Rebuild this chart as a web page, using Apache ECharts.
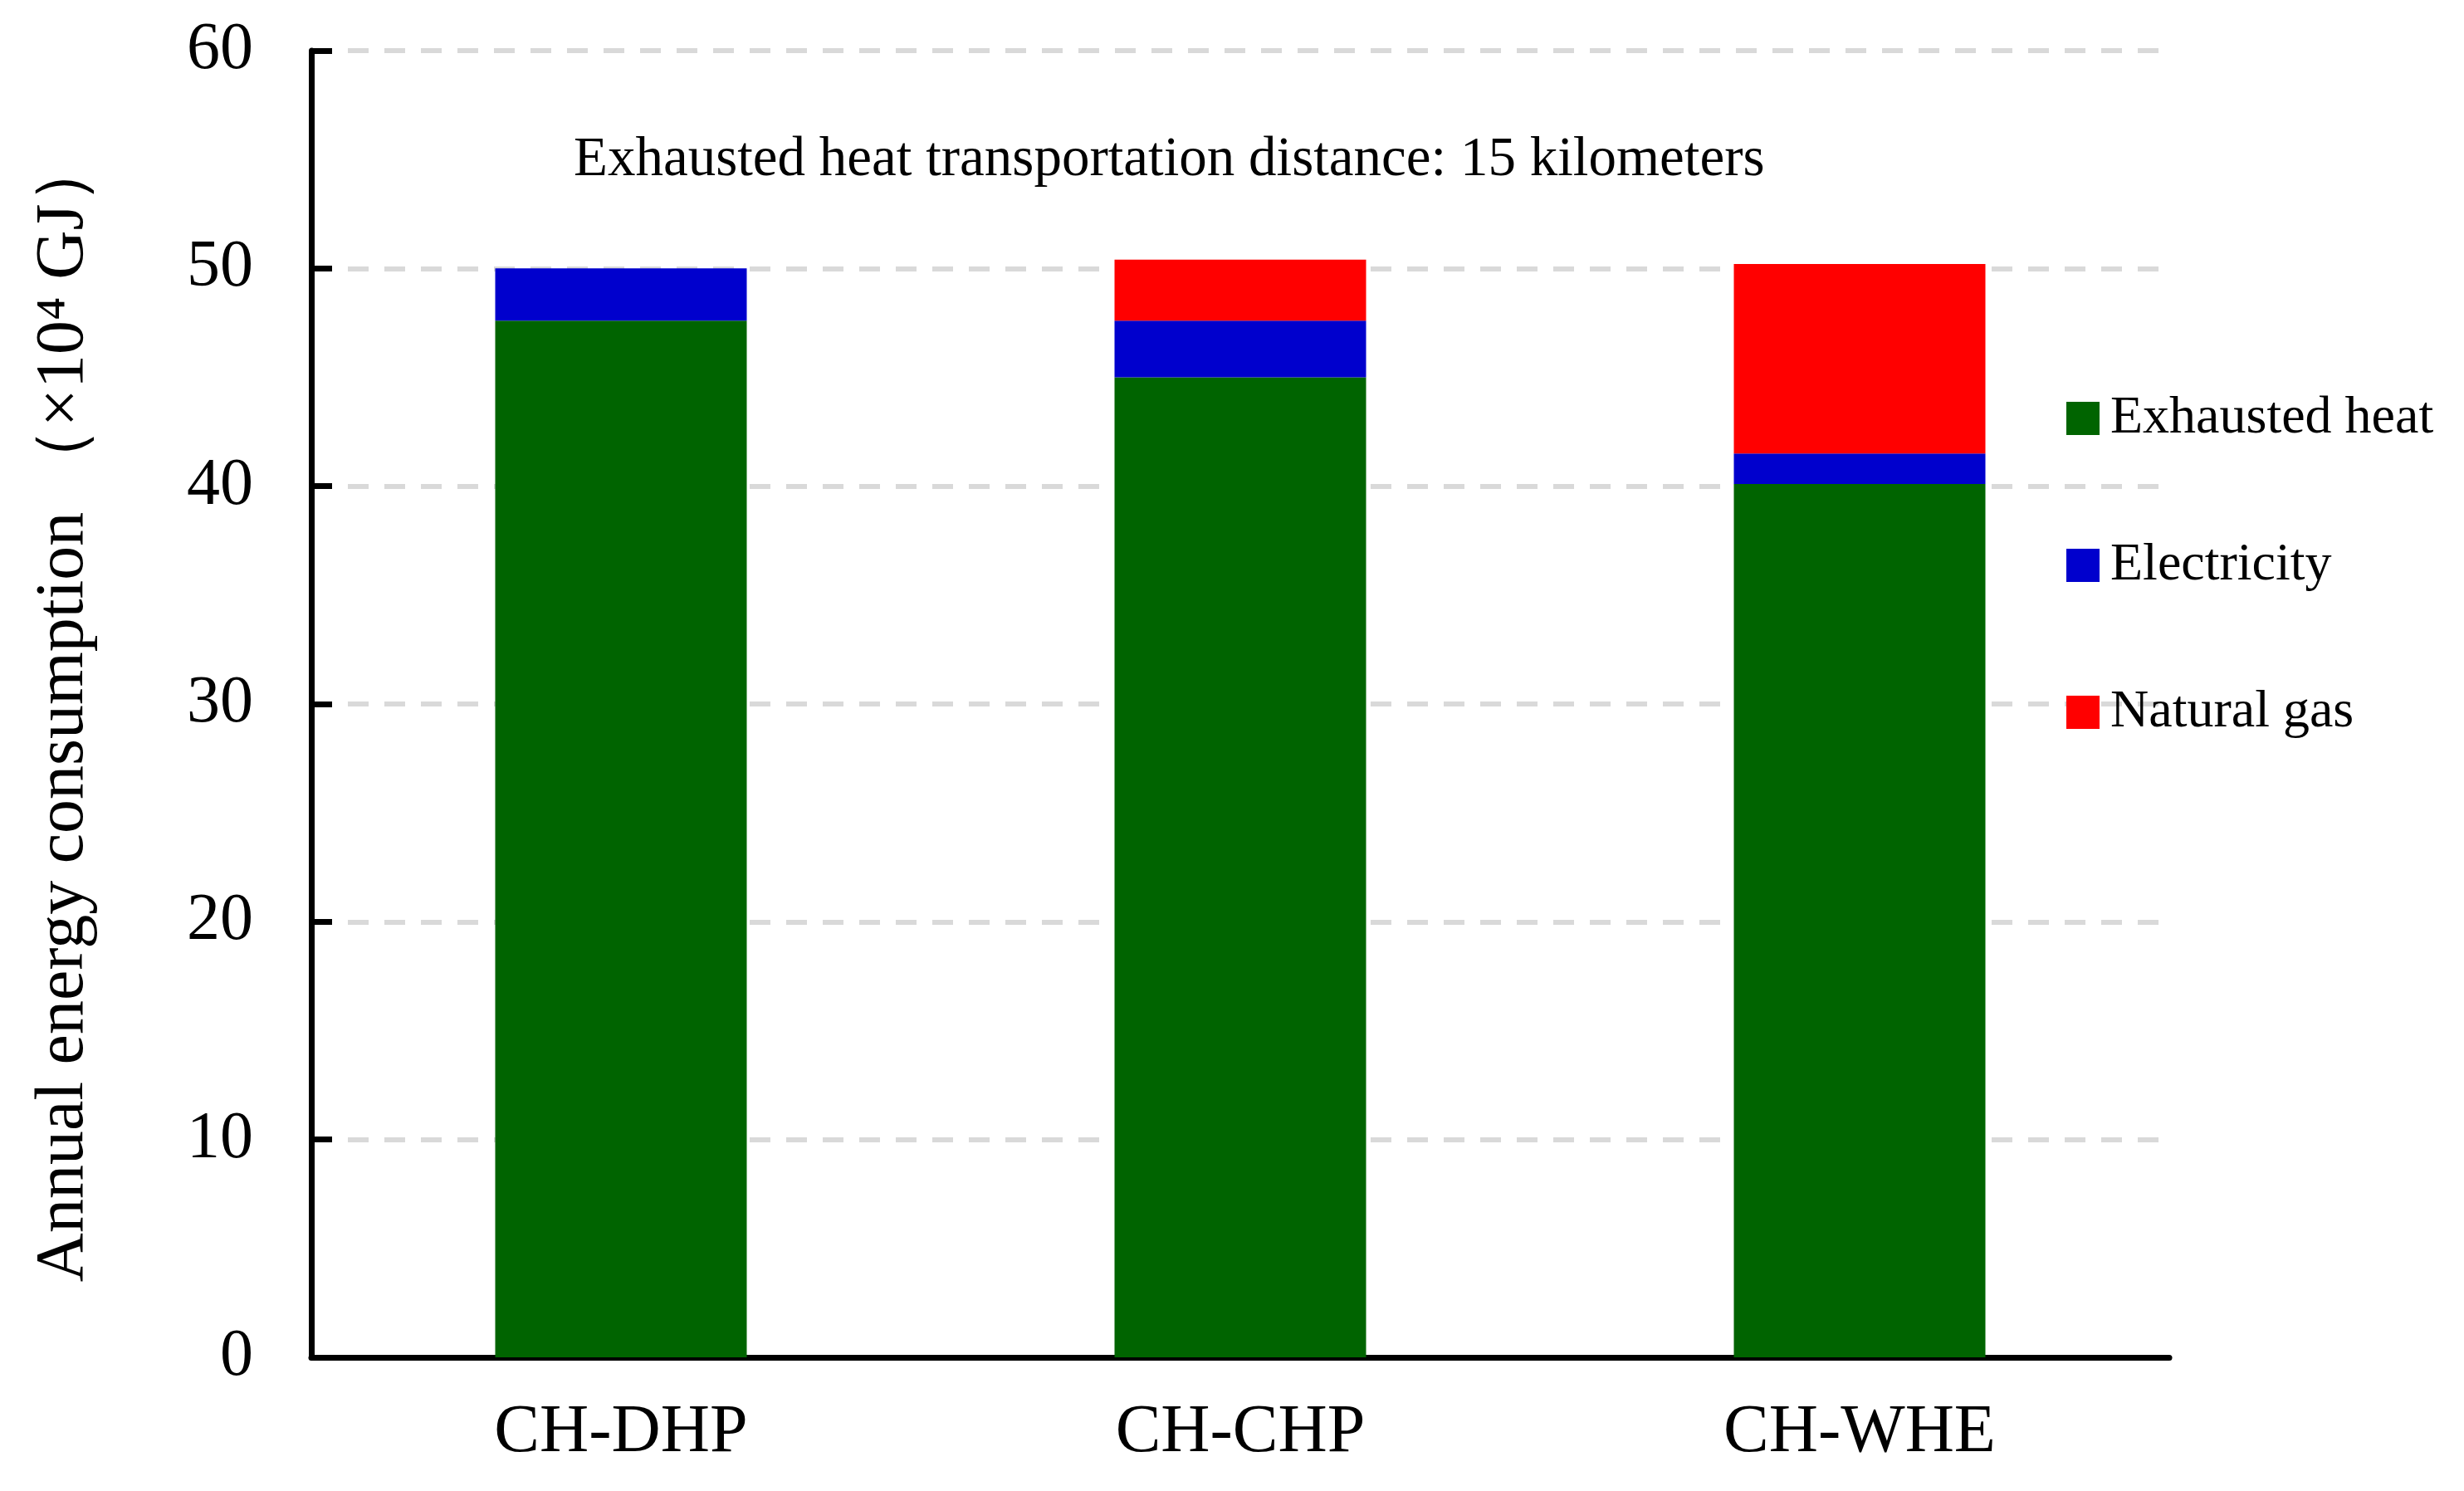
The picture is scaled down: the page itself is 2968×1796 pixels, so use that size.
<!DOCTYPE html>
<html>
<head>
<meta charset="utf-8">
<script src="https://cdn.jsdelivr.net/npm/echarts@6/dist/echarts.min.js"></script>
<style>
html,body{margin:0;padding:0;background:#fff;}
#chart{width:2968px;height:1796px;}
</style>
</head>
<body>
<div id="chart"></div>
<script>
const categories = ['CH-DHP', 'CH-CHP', 'CH-WHE'];
const exhaustedHeat = [47.6, 45.0, 40.1];
const electricity = [2.4, 2.6, 1.4];
const naturalGas = [0, 2.8, 8.7];
const seriesNames = ['Exhausted heat', 'Electricity', 'Natural gas'];
const annotation = 'Exhausted heat transportation distance: 15 kilometers';
const yTitle = 'Annual energy consumption （×10⁴ GJ）';

const FONT = '"Liberation Serif", "Times New Roman", serif';
const chart = echarts.init(document.getElementById('chart'));
const barW = 303;
chart.setOption({
  animation: false,
  backgroundColor: '#ffffff',
  textStyle: { fontFamily: FONT, color: '#000' },
  title: {
    text: annotation,
    left: 691,
    top: 160,
    padding: 0,
    textStyle: { fontFamily: FONT, fontSize: 67, fontWeight: 'normal', color: '#000' }
  },
  legend: {
    orient: 'vertical',
    left: 2484,
    top: 467,
    itemWidth: 40,
    itemHeight: 40,
    itemGap: 113,
    icon: 'rect',
    data: seriesNames,
    textStyle: { fontFamily: FONT, fontSize: 64, color: '#000', lineHeight: 64, padding: [0, 0, 0, 8] }
  },
  grid: { left: 375, right: 355, top: 61, bottom: 161, containLabel: false },
  xAxis: {
    type: 'category',
    data: categories,
    axisLine: { lineStyle: { color: '#000', width: 7 } },
    axisTick: { show: false },
    axisLabel: { fontFamily: FONT, fontSize: 82, color: '#000', margin: 50 }
  },
  yAxis: {
    type: 'value',
    min: 0,
    max: 60,
    interval: 10,
    name: yTitle,
    nameLocation: 'middle',
    nameGap: 257,
    nameTextStyle: { fontFamily: FONT, fontSize: 82, color: '#000', padding: [0, 12, 0, 0] },
    axisLine: { show: true, lineStyle: { color: '#000', width: 7 } },
    axisTick: { show: true, inside: true, length: 25, lineStyle: { color: '#000', width: 7 } },
    axisLabel: { fontFamily: FONT, fontSize: 80, color: '#000', margin: 70 },
    splitLine: { show: true, lineStyle: { color: '#d9d9d9', width: 6, type: [25, 19] } }
  },
  series: [
    { name: seriesNames[0], type: 'bar', stack: 'total', barWidth: barW, data: exhaustedHeat, itemStyle: { color: '#006400' } },
    { name: seriesNames[1], type: 'bar', stack: 'total', barWidth: barW, data: electricity, itemStyle: { color: '#0000CD' } },
    { name: seriesNames[2], type: 'bar', stack: 'total', barWidth: barW, data: naturalGas, itemStyle: { color: '#FF0000' } }
  ]
});
</script>
</body>
</html>
